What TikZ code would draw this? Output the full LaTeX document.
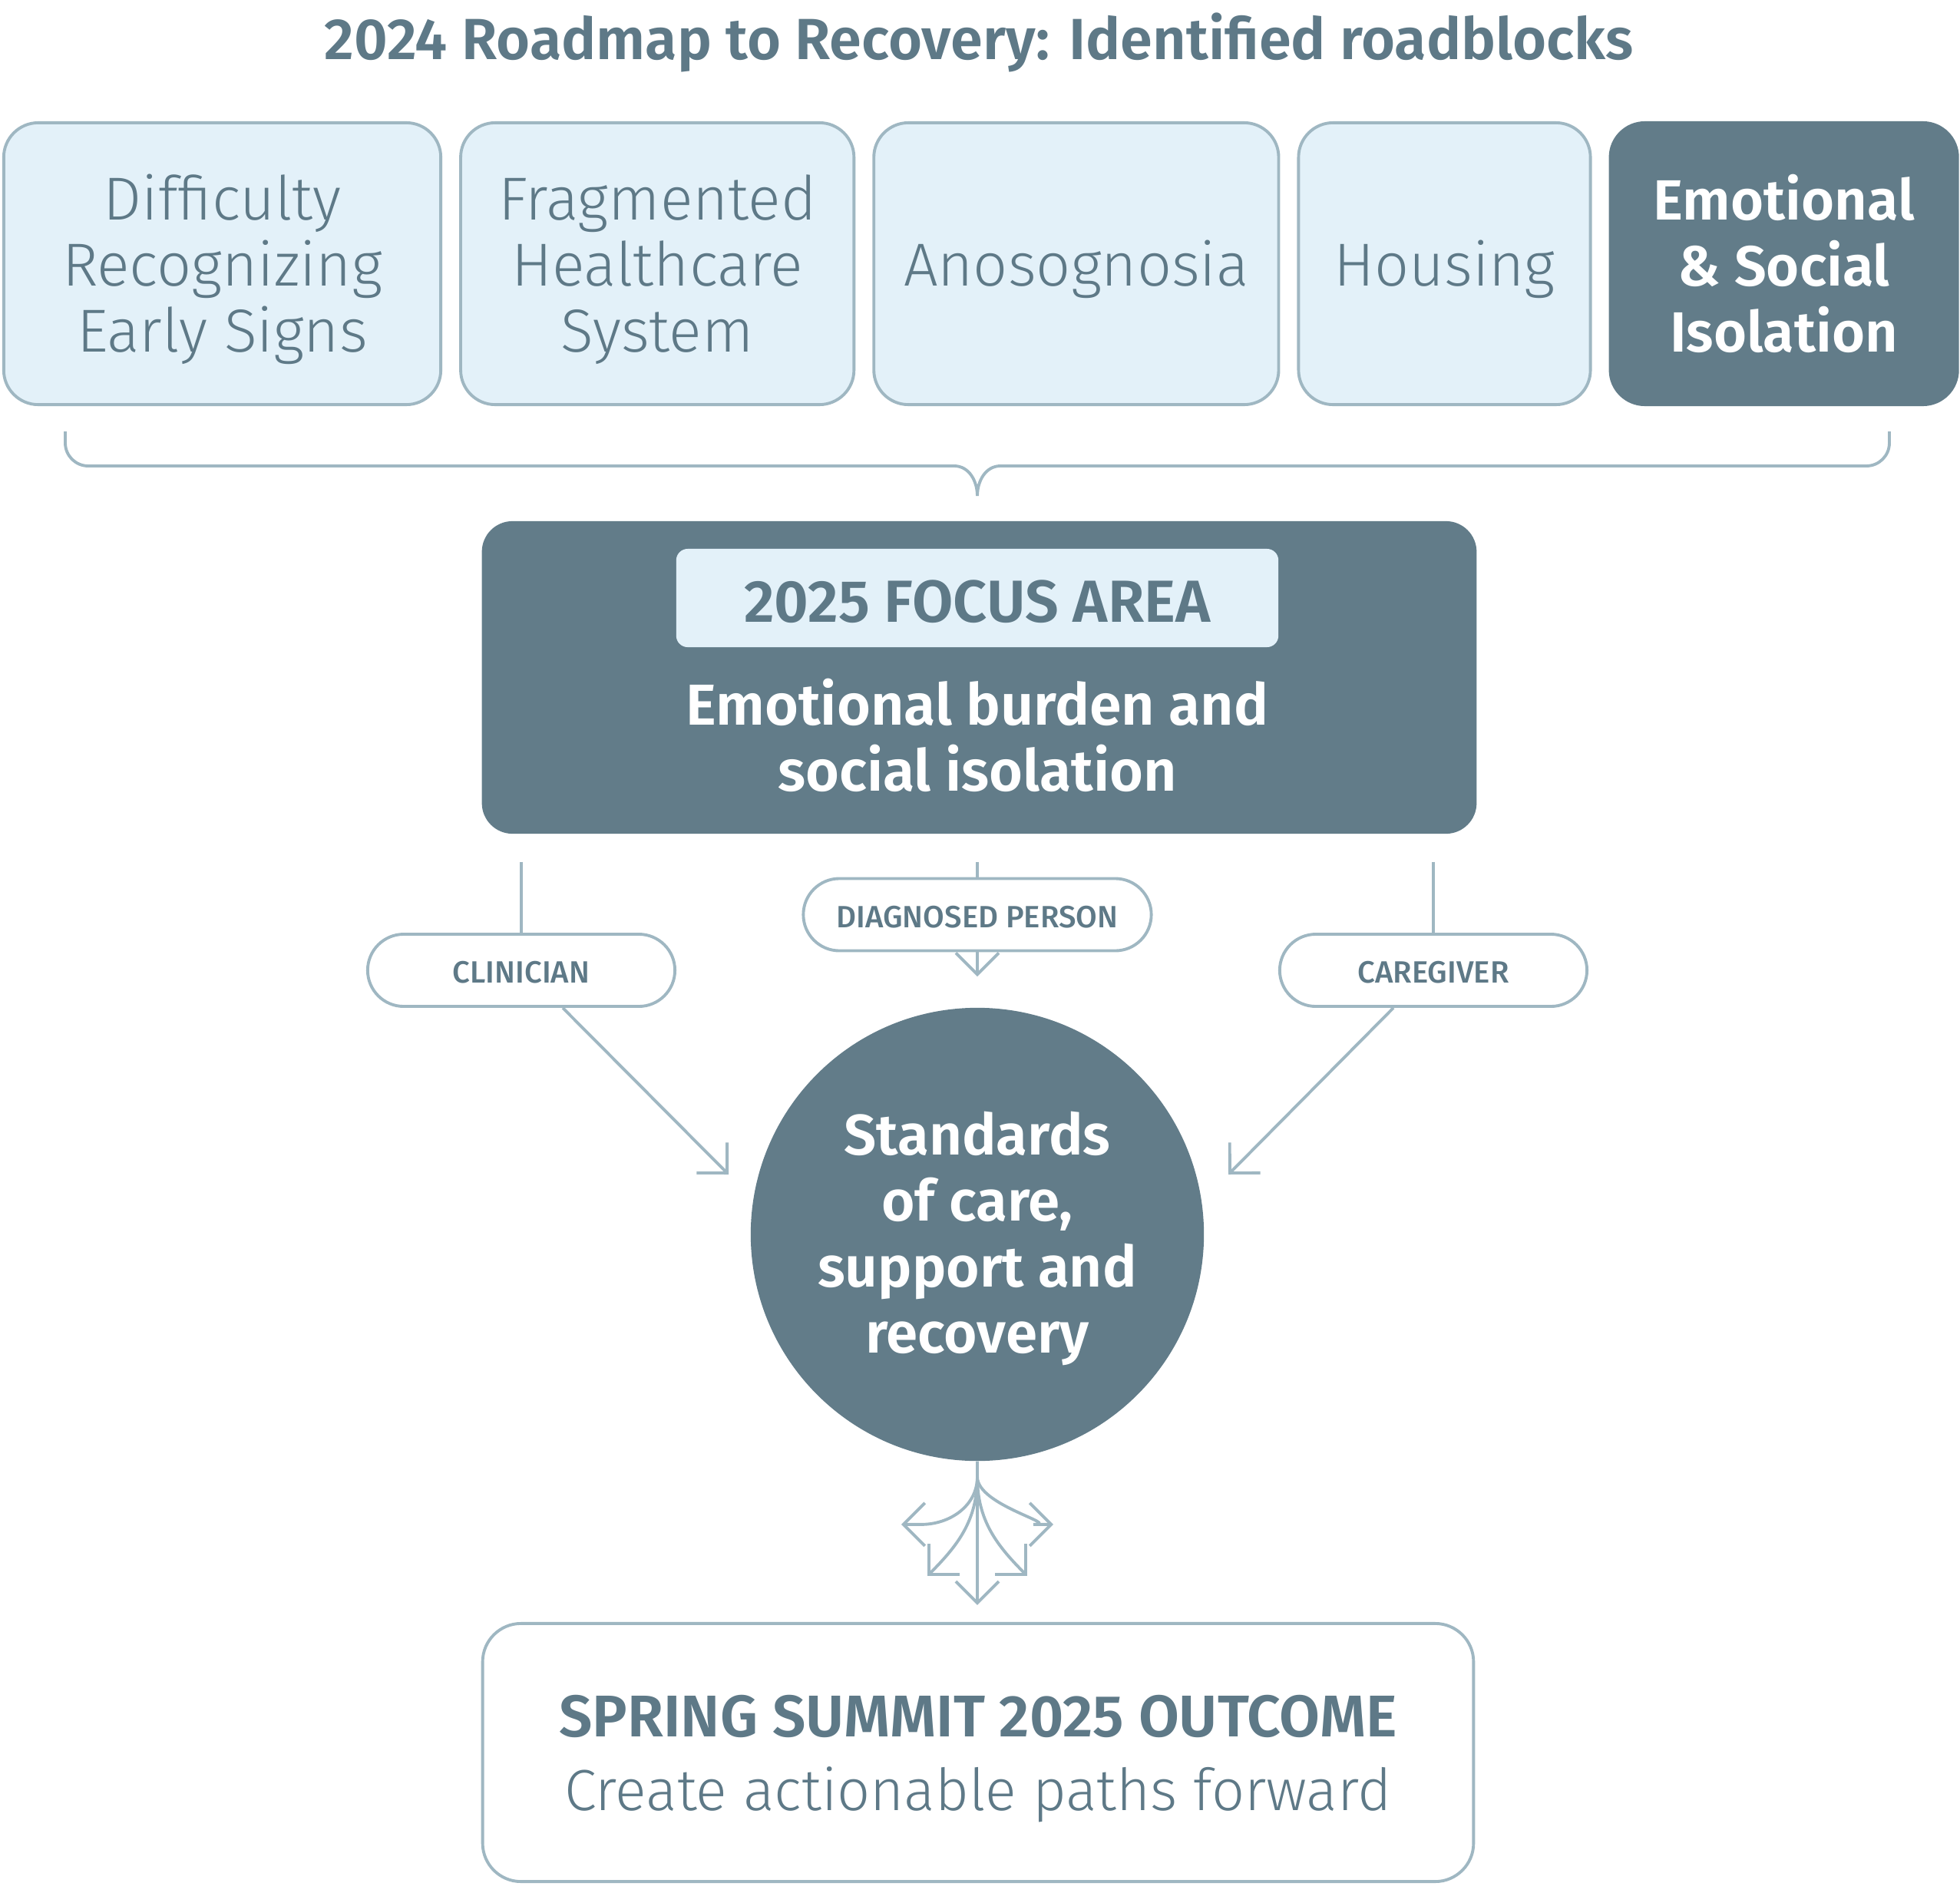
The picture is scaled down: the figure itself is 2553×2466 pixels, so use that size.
\documentclass[tikz,border=0pt]{standalone}
\usepackage{fontspec}
\setmainfont{Fira Sans}[BoldFont={Fira Sans SemiBold}]
\newfontfamily\lightfont{Fira Sans Light}
\newfontfamily\medfont{Fira Sans Medium}
\usetikzlibrary{arrows.meta,positioning}

\definecolor{slate}{HTML}{627C89}
\definecolor{slatetext}{HTML}{5E7987}
\definecolor{rim}{HTML}{9FB7C2}
\definecolor{ice}{HTML}{E3F1F9}

\tikzset{
  block/.style={draw=rim, line width=1.1pt, fill=ice, rounded corners=0.45cm,
    minimum height=3.67cm, align=center, inner sep=0pt, text=slatetext,
    font=\lightfont\fontsize{22.5}{24.5}\selectfont, text height=70.7pt, text depth=5.2pt},
  darkblock/.style={block, draw=slate, fill=slate, text=white,
    font=\bfseries\fontsize{21}{24.5}\selectfont},
  pill/.style={draw=rim, line width=1.1pt, fill=white, rounded corners=0.47cm,
    minimum height=0.94cm, inner sep=0pt, text=slatetext, text height=9.5pt, text depth=0pt,
    font=\medfont\fontsize{11.4}{13}\selectfont},
  link/.style={draw=rim, line width=1.1pt},
  tip/.style={link, -{Straight Barb[length=0.28cm,width=0.56cm]}},
}

\begin{document}
\begin{tikzpicture}[x=0.01cm, y=-0.01cm, node distance=0.22cm]
\useasboundingbox (0,0) rectangle (2553,2466);

\node[text=slatetext, font=\bfseries\fontsize{21.5}{24}\selectfont] (title) at (1275,55)
  {2024 Roadmap to Recovery: Identified roadblocks};

% roadblocks
\node[block, minimum width=5.69cm] (signs) at (289.5,343.5) {Difficulty\\Recognizing\\Early Signs};
\node[block, minimum width=5.12cm, right=of signs] (system) {Fragmented\\Healthcare\\System};
\node[block, minimum width=5.27cm, right=of system, text height=21.7pt] (anos) {Anosognosia};
\node[block, minimum width=3.80cm, right=of anos, text height=21.7pt] (housing) {Housing};
\node[darkblock, minimum width=4.52cm, right=of housing] (isolation) {Emotional\\\& Social\\Isolation};

% brace
\coordinate (braceL) at (85,562);
\coordinate (braceR) at (2461,562);
\coordinate (braceM) at (1273,646);
\draw[link] (braceL) -- ++(0,15) to[out=-90,in=180] ++(30,30) -- (1243,607) to[out=0,in=90] (braceM);
\draw[link] (braceR) -- ++(0,15) to[out=-90,in=0] ++(-30,30) -- (1303,607) to[out=180,in=90] (braceM);

% focus area
\node[fill=slate, rounded corners=0.4cm, minimum width=12.95cm, minimum height=4.07cm] (focus) at (1275.5,882.5) {};
\node[fill=ice, rounded corners=0.15cm, minimum width=7.84cm, minimum height=1.28cm,
  text height=18pt, text depth=0pt,
  text=slatetext, font=\bfseries\fontsize{22}{24}\selectfont] (head) at (1273,779) {2025 FOCUS AREA};
\node[align=center, text=white, font=\bfseries\fontsize{21.4}{24.5}\selectfont] (burden) at (1273,958)
  {Emotional burden and\\social isolation};

% perspectives
\node[pill, minimum width=4.0cm] (clinician) at (679,1264) {CLINICIAN};
\node[pill, minimum width=4.53cm] (person) at (1273,1191.5) {DIAGNOSED PERSON};
\node[pill, minimum width=4.0cm] (caregiver) at (1867,1264) {CAREGIVER};

\node[circle, fill=slate, minimum size=5.9cm, inner sep=0pt, align=center, text=white,
  font=\bfseries\fontsize{21.2}{24.5}\selectfont, text height=93.1pt, text depth=5.1pt] (hub) at (1273,1608)
  {Standards\\of care,\\support and\\recovery};

\coordinate (inL) at (949,1530);
\coordinate (inR) at (1600,1530);

\draw[link, shorten <=0.36cm] (focus.south -| clinician) -- (clinician.north);
\draw[link, shorten <=0.36cm] (focus.south -| person) -- (person.north);
\draw[link, shorten <=0.36cm] (focus.south -| caregiver) -- (caregiver.north);
\draw[tip, shorten >=0.4cm] (person.south) -- (person.south |- hub.north);
\draw[tip] ([xshift=0.54cm]clinician.south) -- (inL);
\draw[tip] ([xshift=-0.52cm]caregiver.south) -- (inR);

% fan out
\draw[tip] (hub.south) -- ++(0,20) to[out=-90,in=0] ++(-73,62) -- ++(-26,0);
\draw[tip] (hub.south) -- ++(0,20) to[out=-90,in=0] ++(73,62) -- ++(26,0);
\draw[tip] (hub.south) -- ++(0,20) to[out=-90,in=45] ++(-65,129);
\draw[tip] (hub.south) -- ++(0,20) to[out=-90,in=135] ++(65,129);
\draw[tip] (hub.south) -- ++(0,187);

% outcome
\node[draw=rim, line width=1.1pt, rounded corners=0.5cm, minimum width=12.9cm, minimum height=3.36cm,
  align=center, text=slatetext, text height=48.5pt, text depth=5.4pt] (outcome) at (1274,2283)
  {{\bfseries\fontsize{21.8}{24}\selectfont SPRING SUMMIT 2025 OUTCOME}\\[0.35cm]
   {\lightfont\fontsize{21.5}{24}\selectfont Create actionable paths forward}};
\end{tikzpicture}
\end{document}
